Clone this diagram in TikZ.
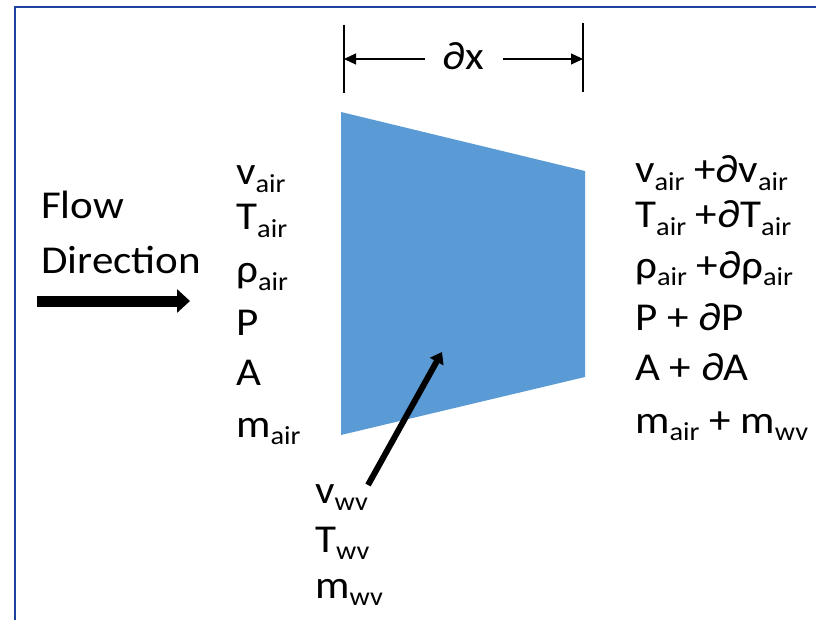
\documentclass[tikz,border=0pt]{standalone}
\usepackage{fontspec}
\setmainfont{Carlito}[FakeStretch=1.09]
\usetikzlibrary{arrows.meta}
\definecolor{frameblue}{RGB}{28,66,158}
\definecolor{cellblue}{HTML}{5B9BD5}
\newcommand{\lowsub}[1]{\raisebox{-7.5pt}{\fontsize{26}{26}\selectfont #1}}
\begin{document}
\begin{tikzpicture}[x=1pt,y=-1pt,
  txt/.style={anchor=base west, inner sep=0pt, font=\fontsize{39.5}{39.5}\selectfont},
  dimline/.style={line width=1.2pt, -{Triangle[length=12pt,width=11pt]}},
  bar/.style={line width=1.2pt}]
\useasboundingbox (0,0) rectangle (816,620);
\draw[frameblue, line width=2.2pt] (15,630) -- (15,7) -- (830,7);
% control volume
\fill[cellblue] (341,112) -- (585,171) -- (585,377) -- (341,435) -- cycle;
% dimension
\coordinate (bl1) at (344,25); \coordinate (bl2) at (344,93);
\coordinate (br1) at (583,23); \coordinate (br2) at (583,92);
\coordinate (dl) at (344,59); \coordinate (dr) at (583,59);
\coordinate (dls) at (425,59); \coordinate (drs) at (503,59);
\draw[bar] (bl1) -- (bl2);
\draw[bar] (br1) -- (br2);
\draw[dimline] (dls) -- (dl);
\draw[dimline] (drs) -- (dr);
\node[txt] (dx) at (442,70) {∂x};
% flow direction
\node[txt] (flow) at (41,219) {Flow};
\node[txt] (dir) at (41,273) {Direction};
\coordinate (fa1) at (37,301); \coordinate (fa2) at (190,301);
\draw[line width=11pt, -{Triangle[length=13pt,width=23pt]}] (fa1) -- (fa2);
% left
\node[txt] (l1) at (236,185) {v\lowsub{air}};
\node[txt] (l2) at (236,230) {T\lowsub{air}};
\node[txt] (l3) at (236,283) {ρ\lowsub{air}};
\node[txt] (l4) at (236,335) {P};
\node[txt] (l5) at (236,385) {A};
\node[txt] (l6) at (236,437) {m\lowsub{air}};
% right
\node[txt] (r1) at (635,183) {v\lowsub{air} +∂v\lowsub{air}};
\node[txt] (r2) at (635,228) {T\lowsub{air} +∂T\lowsub{air}};
\node[txt] (r3) at (635,278) {ρ\lowsub{air} +∂ρ\lowsub{air}};
\node[txt] (r4) at (635,330) {P + ∂P};
\node[txt] (r5) at (635,380) {A + ∂A};
\node[txt] (r6) at (635,433) {m\lowsub{air} + m\lowsub{wv}};
% bottom
\node[txt] (b1) at (315,503) {v\lowsub{wv}};
\node[txt] (b2) at (315,552) {T\lowsub{wv}};
\node[txt] (b3) at (315,598) {m\lowsub{wv}};
\coordinate (wa1) at (368,485); \coordinate (wa2) at (442,352);
\draw[line width=6pt, -{Triangle[length=11pt,width=15pt]}] (wa1) -- (wa2);
\end{tikzpicture}
\end{document}
